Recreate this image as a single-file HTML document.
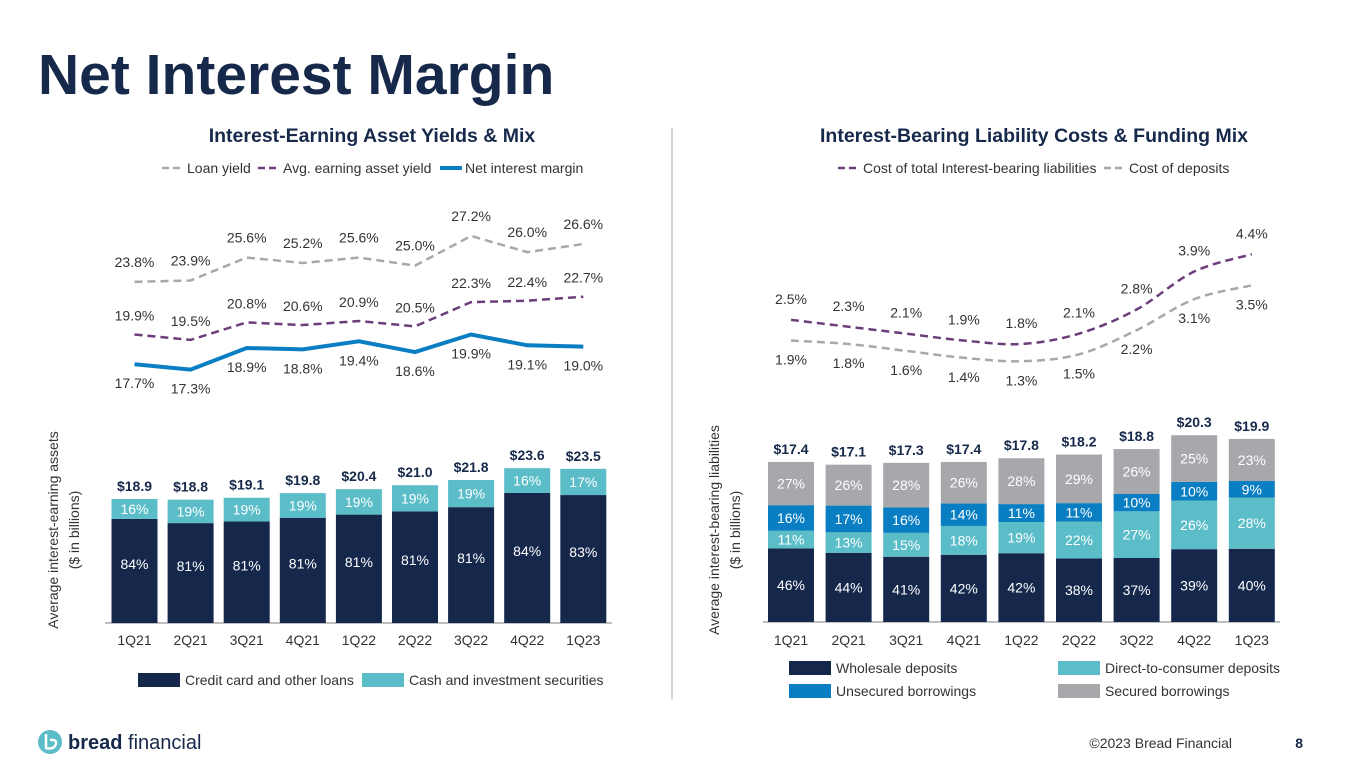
<!DOCTYPE html>
<html><head><meta charset="utf-8"><style>
body{margin:0;width:1365px;height:768px;background:#fff;overflow:hidden;font-family:"Liberation Sans",Arial,sans-serif}
svg{position:absolute;left:0;top:0}
</style></head><body>
<svg id="s" width="1365" height="768" xmlns="http://www.w3.org/2000/svg" font-family="Liberation Sans, Arial, sans-serif">
<text x="38" y="94" font-size="57" font-weight="bold" fill="#17294b">Net Interest Margin</text>
<text x="372" y="142" font-size="19.5" font-weight="bold" fill="#17294b" text-anchor="middle">Interest-Earning Asset Yields &amp; Mix</text>
<text x="1034" y="142" font-size="19.5" font-weight="bold" fill="#17294b" text-anchor="middle">Interest-Bearing Liability Costs &amp; Funding Mix</text>
<line x1="672" y1="128" x2="672" y2="700" stroke="#c8ccd2" stroke-width="1.5"/>
<g font-size="14" fill="#333">
<line x1="162" y1="168" x2="184" y2="168" stroke="#a8a8a8" stroke-width="2.5" stroke-dasharray="7,4"/><text x="187" y="173">Loan yield</text>
<line x1="258" y1="168" x2="280" y2="168" stroke="#6b3d7a" stroke-width="2.5" stroke-dasharray="7,4"/><text x="283" y="173">Avg. earning asset yield</text>
<line x1="440" y1="168" x2="462" y2="168" stroke="#0a7ec2" stroke-width="4"/><text x="465" y="173">Net interest margin</text>
</g>
<g font-size="14" fill="#333">
<line x1="838" y1="168" x2="860" y2="168" stroke="#6b3d7a" stroke-width="2.5" stroke-dasharray="7,4"/><text x="863" y="173">Cost of total Interest-bearing liabilities</text>
<line x1="1104" y1="168" x2="1126" y2="168" stroke="#a8a8a8" stroke-width="2.5" stroke-dasharray="7,4"/><text x="1129" y="173">Cost of deposits</text>
</g>
<g font-size="14" fill="#333">
<text transform="translate(58,530) rotate(-90)" text-anchor="middle">Average interest-earning assets</text>
<text transform="translate(79,530) rotate(-90)" text-anchor="middle">($ in billions)</text>
<text transform="translate(719,530) rotate(-90)" text-anchor="middle">Average interest-bearing liabilities</text>
<text transform="translate(740,530) rotate(-90)" text-anchor="middle">($ in billions)</text>
</g>
<g font-size="14" fill="#333">
<rect x="138" y="673" width="42" height="14" fill="#15284b"/><text x="185" y="685">Credit card and other loans</text>
<rect x="362" y="673" width="42" height="14" fill="#5bbdc8"/><text x="409" y="685">Cash and investment securities</text>
</g>
<g font-size="14" fill="#333">
<rect x="789" y="661" width="42" height="14" fill="#15284b"/><text x="836" y="673">Wholesale deposits</text>
<rect x="1058" y="661" width="42" height="14" fill="#5bbdc8"/><text x="1105" y="673">Direct-to-consumer deposits</text>
<rect x="789" y="684" width="42" height="14" fill="#0a7ec2"/><text x="836" y="696">Unsecured borrowings</text>
<rect x="1058" y="684" width="42" height="14" fill="#a6a8ab"/><text x="1105" y="696">Secured borrowings</text>
</g>
<g>
<circle cx="50" cy="742" r="12" fill="#5bbdc8"/>
<path d="M46 734 L46 748 Q54 750 56 744 Q57 739 50 740" stroke="#fff" stroke-width="2.5" fill="none"/>
<text x="68" y="749" font-size="20" font-weight="bold" fill="#17294b">bread <tspan font-weight="normal">financial</tspan></text>
</g>
<text x="1232" y="748" font-size="14" fill="#333" text-anchor="end">©2023 Bread Financial</text>
<text x="1303" y="748" font-size="14" font-weight="bold" fill="#17294b" text-anchor="end">8</text>
<g id="g"></g>
</svg>
<script>
const quarters=["1Q21","2Q21","3Q21","4Q21","1Q22","2Q22","3Q22","4Q22","1Q23"];
const leftTotals=[18.9,18.8,19.1,19.8,20.4,21.0,21.8,23.6,23.5];
const leftLoansPct=[84,81,81,81,81,81,81,84,83];
const leftCashPct=[16,19,19,19,19,19,19,16,17];
const loanYield=[23.8,23.9,25.6,25.2,25.6,25.0,27.2,26.0,26.6];
const avgYield=[19.9,19.5,20.8,20.6,20.9,20.5,22.3,22.4,22.7];
const nim=[17.7,17.3,18.9,18.8,19.4,18.6,19.9,19.1,19.0];
const rightTotals=[17.4,17.1,17.3,17.4,17.8,18.2,18.8,20.3,19.9];
const wholesalePct=[46,44,41,42,42,38,37,39,40];
const dtcPct=[11,13,15,18,19,22,27,26,28];
const unsecuredPct=[16,17,16,14,11,11,10,10,9];
const securedPct=[27,26,28,26,28,29,26,25,23];
const costTotal=[2.5,2.3,2.1,1.9,1.8,2.1,2.8,3.9,4.4];
const costDeposits=[1.9,1.8,1.6,1.4,1.3,1.5,2.2,3.1,3.5];

const NS="http://www.w3.org/2000/svg",G=document.getElementById('g');
function mk(t,a,txt){const e=document.createElementNS(NS,t);for(const k in a)e.setAttribute(k,a[k]);if(txt!=null)e.textContent=txt;G.appendChild(e);return e;}
const lx=i=>134.5+i*56.1, rx=i=>791+i*57.6;
const lBase=623, lScale=6.56, rBase=622, rScale=9.2;
const ly=v=>334.5-(v-19.9)*13.5, ry=v=>344-(v-1.8)*34.5;
const BW=46, FS=14;
function fmt(v){return v.toFixed(1)+'%';}

let ax=mk('line',{x1:105,y1:lBase,x2:612,y2:lBase,stroke:'#a6a8ab','stroke-width':1.5});


quarters.forEach((q,i)=>{
  const H=leftTotals[i]*lScale, x=lx(i)-BW/2;
  const hl=H*leftLoansPct[i]/100, hc=H-hl;
  let r=mk('rect',{x:x,y:lBase-hl,width:BW,height:hl,fill:'#15284b'});
  
  
  r=mk('rect',{x:x,y:lBase-H,width:BW,height:hc,fill:'#5bbdc8'});
  
  
  let t=mk('text',{x:lx(i),y:lBase-hl/2-2,'font-size':FS,fill:'#fff','text-anchor':'middle'},leftLoansPct[i]+'%');
  
  
  t=mk('text',{x:lx(i),y:lBase-hl-hc/2+5,'font-size':FS,fill:'#fff','text-anchor':'middle'},leftCashPct[i]+'%');
  
  
  t=mk('text',{x:lx(i),y:lBase-H-8,'font-size':FS,'font-weight':'bold',fill:'#17294b','text-anchor':'middle'},'$'+leftTotals[i].toFixed(1));
  
  
  t=mk('text',{x:lx(i),y:645,'font-size':FS,fill:'#333','text-anchor':'middle'},q);
  
  
});
ax=mk('line',{x1:763,y1:rBase,x2:1280,y2:rBase,stroke:'#a6a8ab','stroke-width':1.5});


const segs=[[wholesalePct,'#15284b','wholesale'],[dtcPct,'#5bbdc8','dtc'],[unsecuredPct,'#0a7ec2','unsecured'],[securedPct,'#a6a8ab','secured']];
quarters.forEach((q,i)=>{
  const H=rightTotals[i]*rScale, x=rx(i)-BW/2;
  const sum=segs.reduce((a,s)=>a+s[0][i],0);
  let y=rBase;
  segs.forEach(s=>{
    const h=H*s[0][i]/sum; y-=h;
    let r=mk('rect',{x:x,y:y,width:BW,height:h,fill:s[1]});
    
    
    let t=mk('text',{x:rx(i),y:y+h/2+5,'font-size':FS,fill:'#fff','text-anchor':'middle'},s[0][i]+'%');
    
    
  });
  let t=mk('text',{x:rx(i),y:rBase-H-8,'font-size':FS,'font-weight':'bold',fill:'#17294b','text-anchor':'middle'},'$'+rightTotals[i].toFixed(1));
  
  
  t=mk('text',{x:rx(i),y:645,'font-size':FS,fill:'#333','text-anchor':'middle'},q);
  
  
});
function line(vals,xf,yf,color,w,dash,name,dy,smooth){
  const p=vals.map((v,i)=>[xf(i),yf(v)]);
  let d='M'+p[0][0]+' '+p[0][1];
  for(let i=1;i<p.length;i++){
    if(smooth){
      const p0=p[Math.max(0,i-2)],p1=p[i-1],p2=p[i],p3=p[Math.min(p.length-1,i+1)];
      const c1=[p1[0]+(p2[0]-p0[0])/6,p1[1]+(p2[1]-p0[1])/6],c2=[p2[0]-(p3[0]-p1[0])/6,p2[1]-(p3[1]-p1[1])/6];
      d+=' C'+c1+' '+c2+' '+p2;
    } else d+=' L'+p[i][0]+' '+p[i][1];
  }
  const a={d:d,fill:'none',stroke:color,'stroke-width':w};
  if(dash)a['stroke-dasharray']=dash;
  const e=mk('path',a);
  
  
  vals.forEach((v,i)=>{
    const t=mk('text',{x:p[i][0],y:p[i][1]+dy,'font-size':FS,fill:'#333','text-anchor':'middle'},fmt(v));
    
    
  });
}
line(loanYield,lx,ly,'#a8a8a8',2.5,'8,5','loan-yield',-15,false);
line(avgYield,lx,ly,'#6b3d7a',2.5,'8,5','avg-earning-asset-yield',-14,false);
line(nim,lx,ly,'#0a7ec2',4,null,'net-interest-margin',24,false);
line(costTotal,rx,ry,'#6b3d7a',2.5,'8,5','cost-total-liabilities',-16,true);
line(costDeposits,rx,ry,'#a8a8a8',2.5,'8,5','cost-of-deposits',24,true);
</script>
</body></html>
